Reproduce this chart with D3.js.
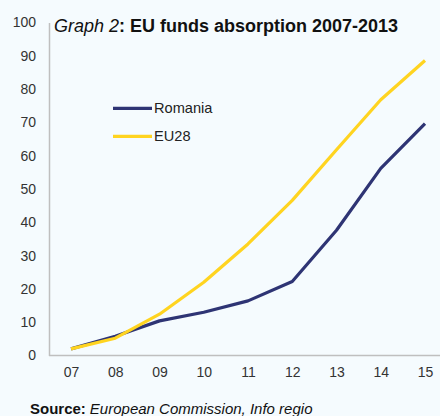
<!DOCTYPE html>
<html><head><meta charset="utf-8">
<script src="https://cdn.jsdelivr.net/npm/d3@7"></script>
<style>
html,body{margin:0;padding:0;background:#F5FBFE;}
svg{display:block;font-family:Arial,"Liberation Sans",sans-serif;}
</style></head>
<body><svg id="c" width="440" height="416"></svg>
<script>
const years = ["07","08","09","10","11","12","13","14","15"];
const romania = [2, 5.8, 10.4, 13, 16.4, 22.2, 37.6, 56.2, 69.6];
const eu28 = [2, 5.2, 12.4, 22, 33.5, 46.6, 61.8, 76.8, 88.6];
const yTicks = [0,10,20,30,40,50,60,70,80,90,100];
const seriesNames = ["Romania","EU28"];
const colors = ["#2E3474","#FFD420"];

const svg = d3.select("#c");
svg.append("rect").attr("width",440).attr("height",416).attr("fill","#F5FBFE");

const x = d3.scalePoint().domain(years).range([71, 425]);
const y = d3.scaleLinear().domain([0,100]).range([355.5, 22.5]);

// axes
const yAxis = svg.append("g").attr("transform","translate(49,0)")
  .call(d3.axisLeft(y).tickValues(yTicks).tickSize(0).tickPadding(13));
yAxis.select(".domain").attr("stroke","#BFBFBF").attr("stroke-width",1.5);
yAxis.selectAll("text").attr("font-size",14).attr("fill","#333").attr("font-family","Arial, 'Liberation Sans', sans-serif");

const xAxis = svg.append("g").attr("transform","translate(0,355.5)")
  .call(d3.axisBottom(x).tickSize(0).tickPadding(12));
xAxis.select(".domain").attr("d","M49,0H440").attr("stroke","#BFBFBF").attr("stroke-width",1.5);
xAxis.selectAll("text").attr("font-size",14).attr("fill","#333").attr("font-family","Arial, 'Liberation Sans', sans-serif");

const line = d3.line().x((d,i)=>x(years[i])).y(d=>y(d));
[romania, eu28].forEach((s,k)=>{
  svg.append("path").datum(s).attr("d",line).attr("fill","none")
    .attr("stroke",colors[k]).attr("stroke-width",3.2).attr("stroke-linejoin","round");
});

// legend
const lg = [108.3, 136.3];
seriesNames.forEach((n,k)=>{
  svg.append("line").attr("x1",113).attr("x2",152).attr("y1",lg[k]).attr("y2",lg[k])
    .attr("stroke",colors[k]).attr("stroke-width",3.2);
  svg.append("text").attr("x",154).attr("y",lg[k]+5).attr("font-size",14.6).attr("fill","#222").text(n);
});

// title
const t = svg.append("text").attr("x",54).attr("y",32).attr("font-size",18).attr("fill","#111");
t.append("tspan").attr("font-style","italic").text("Graph 2");
t.append("tspan").attr("font-weight","bold").text(": EU funds absorption 2007-2013");

// source
const s = svg.append("text").attr("x",30).attr("y",414).attr("font-size",15).attr("fill","#111");
s.append("tspan").attr("font-weight","bold").text("Source:");
s.append("tspan").attr("font-style","italic").attr("dx",4).text("European Commission, Info regio");
</script></body></html>
